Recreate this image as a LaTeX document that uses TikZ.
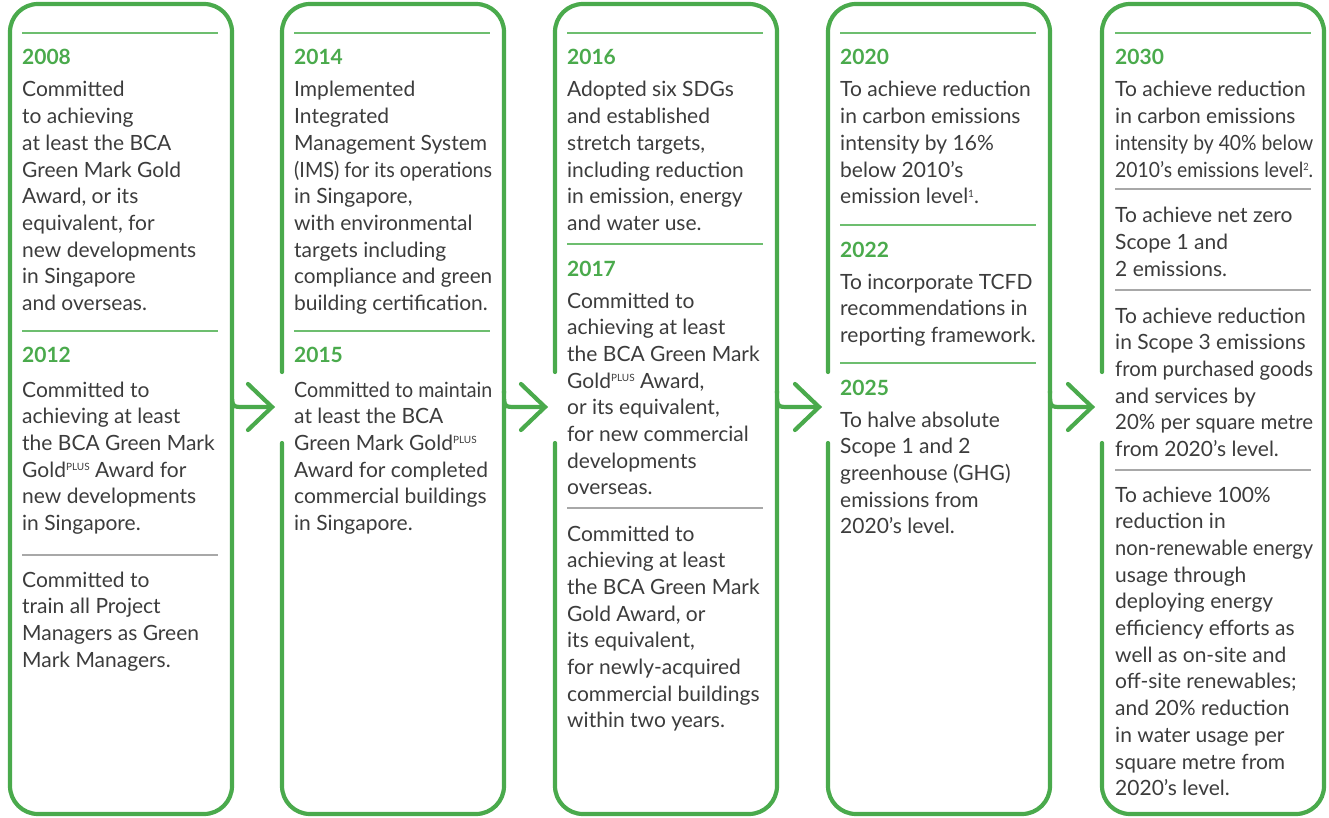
\documentclass[tikz,border=0pt]{standalone}
\usepackage{fontspec}
\setmainfont{Lato}
\usepackage{graphicx}
\definecolor{grn}{HTML}{4AAA4C}
\definecolor{lgrn}{HTML}{6DBE6F}
\definecolor{gry}{HTML}{A8A8A8}
\definecolor{txtc}{HTML}{3C3C3C}
\newlength\fitw
\newcommand\fl[1]{\settowidth\fitw{#1}\ifdim\fitw>198pt\resizebox{198pt}{\height}{#1}\else#1\fi}
\newcommand\myl[1]{\fl{#1}\\}
\newcommand\blk[1]{\parbox[t]{320pt}{\fontsize{21}{26.7}\selectfont#1}}
\newcommand\sups[1]{\raisebox{6.5pt}{\fontsize{10}{10}\selectfont #1}}
\tikzset{
  frame/.style={draw=grn, line width=4.2pt, line cap=round, rounded corners=28pt},
  chev/.style={draw=grn, line width=4.2pt, line cap=round, miter limit=10},
  gsep/.style={draw=lgrn, line width=1.6pt},
  ysep/.style={draw=gry, line width=1.4pt},
  yr/.style={inner sep=0pt, anchor=base west, text=grn, font=\fontsize{21}{21}\selectfont\bfseries},
  body/.style={inner sep=0pt, anchor=base west, text=txtc}
}
\begin{document}
\begin{tikzpicture}[x=1pt, y=-1pt]
\useasboundingbox (0,0) rectangle (1329,818);
% ---------- frames ----------
% column 1
\draw[frame] (232,393) -- (232,4) -- (10,4) -- (10,814) -- (232,814) -- (232,419) [sharp corners] .. controls (232,407) .. (244,407) -- (272,407);
\draw[chev] (248,384) -- (272,407) -- (248,430);
% column 2
\draw[frame] (504,393) -- (504,4) -- (282,4) -- (282,372);
\draw[frame] (282,443) -- (282,814) -- (504,814) -- (504,419) [sharp corners] .. controls (504,407) .. (516,407) -- (545,407);
\draw[chev] (521,384) -- (545,407) -- (521,430);
% column 3
\draw[frame] (777,393) -- (777,4) -- (555,4) -- (555,372);
\draw[frame] (555,443) -- (555,814) -- (777,814) -- (777,419) [sharp corners] .. controls (777,407) .. (789,407) -- (819,407);
\draw[chev] (795,384) -- (819,407) -- (795,430);
% column 4
\draw[frame] (1050,393) -- (1050,4) -- (828,4) -- (828,372);
\draw[frame] (828,443) -- (828,814) -- (1050,814) -- (1050,419) [sharp corners] .. controls (1050,407) .. (1062,407) -- (1092,407);
\draw[chev] (1068,384) -- (1092,407) -- (1068,430);
% column 5
\draw[frame] (1102,443) -- (1102,814) -- (1324,814) -- (1324,4) -- (1102,4) -- (1102,372);

% ---------- column 1 ----------
\coordinate (s1a) at (22,33); \coordinate (s1b) at (218,33);
\draw[gsep] (s1a) -- (s1b);
\node[yr] (y2008) at (22,65) {2008};
\node[body] (t2008) at (22,97) {\blk{\myl{Committed}\myl{to achieving}\myl{at least the BCA}\myl{Green Mark Gold}\myl{Award, or its}\myl{equivalent, for}\myl{new developments}\myl{in Singapore}\fl{and overseas.}}};
\coordinate (s1c) at (22,331); \coordinate (s1d) at (218,331);
\draw[gsep] (s1c) -- (s1d);
\node[yr] (y2012) at (22,362) {2012};
\node[body] (t2012) at (22,397) {\blk{\myl{Committed to}\myl{achieving at least}\myl{the BCA Green Mark}\myl{Gold\sups{PLUS} Award for}\myl{new developments}\fl{in Singapore.}}};
\coordinate (s1e) at (22,555); \coordinate (s1f) at (218,555);
\draw[ysep] (s1e) -- (s1f);
\node[body] (t2012b) at (22,587) {\blk{\myl{Committed to}\myl{train all Project}\myl{Managers as Green}\fl{Mark Managers.}}};

% ---------- column 2 ----------
\coordinate (s2a) at (294,33); \coordinate (s2b) at (490,33);
\draw[gsep] (s2a) -- (s2b);
\node[yr] (y2014) at (294,65) {2014};
\node[body] (t2014) at (294,97) {\blk{\myl{Implemented}\myl{Integrated}\myl{Management System}\myl{(IMS) for its operations}\myl{in Singapore,}\myl{with environmental}\myl{targets including}\myl{compliance and green}\fl{building certification.}}};
\coordinate (s2c) at (294,331); \coordinate (s2d) at (490,331);
\draw[gsep] (s2c) -- (s2d);
\node[yr] (y2015) at (294,362) {2015};
\node[body] (t2015) at (294,397) {\blk{\myl{Committed to maintain}\myl{at least the BCA}\myl{Green Mark Gold\sups{PLUS}}\myl{Award for completed}\myl{commercial buildings}\fl{in Singapore.}}};

% ---------- column 3 ----------
\coordinate (s3a) at (567,33); \coordinate (s3b) at (763,33);
\draw[gsep] (s3a) -- (s3b);
\node[yr] (y2016) at (567,65) {2016};
\node[body] (t2016) at (567,97) {\blk{\myl{Adopted six SDGs}\myl{and established}\myl{stretch targets,}\myl{including reduction}\myl{in emission, energy}\fl{and water use.}}};
\coordinate (s3c) at (567,244); \coordinate (s3d) at (763,244);
\draw[gsep] (s3c) -- (s3d);
\node[yr] (y2017) at (567,276) {2017};
\node[body] (t2017) at (567,308) {\blk{\myl{Committed to}\myl{achieving at least}\myl{the BCA Green Mark}\myl{Gold\sups{PLUS} Award,}\myl{or its equivalent,}\myl{for new commercial}\myl{developments}\fl{overseas.}}};
\coordinate (s3e) at (567,508); \coordinate (s3f) at (763,508);
\draw[ysep] (s3e) -- (s3f);
\node[body] (t2017b) at (567,541) {\blk{\myl{Committed to}\myl{achieving at least}\myl{the BCA Green Mark}\myl{Gold Award, or}\myl{its equivalent,}\myl{for newly-acquired}\myl{commercial buildings}\fl{within two years.}}};

% ---------- column 4 ----------
\coordinate (s4a) at (840,33); \coordinate (s4b) at (1036,33);
\draw[gsep] (s4a) -- (s4b);
\node[yr] (y2020) at (840,65) {2020};
\node[body] (t2020) at (840,97) {\blk{\myl{To achieve reduction}\myl{in carbon emissions}\myl{intensity by 16\%}\myl{below 2010’s}\fl{emission level\sups{1}.}}};
\coordinate (s4c) at (840,225); \coordinate (s4d) at (1036,225);
\draw[gsep] (s4c) -- (s4d);
\node[yr] (y2022) at (840,257) {2022};
\node[body] (t2022) at (840,289) {\blk{\myl{To incorporate TCFD}\myl{recommendations in}\fl{reporting framework.}}};
\coordinate (s4e) at (840,363); \coordinate (s4f) at (1036,363);
\draw[gsep] (s4e) -- (s4f);
\node[yr] (y2025) at (840,395) {2025};
\node[body] (t2025) at (840,427) {\blk{\myl{To halve absolute}\myl{Scope 1 and 2}\myl{greenhouse (GHG)}\myl{emissions from}\fl{2020's level.}}};

% ---------- column 5 ----------
\coordinate (s5a) at (1115,33); \coordinate (s5b) at (1311,33);
\draw[gsep] (s5a) -- (s5b);
\node[yr] (y2030) at (1115,65) {2030};
\node[body] (t2030) at (1115,97) {\blk{\myl{To achieve reduction}\myl{in carbon emissions}\myl{intensity by 40\% below}\fl{2010’s emissions level\sups{2}.}}};
\coordinate (s5c) at (1115,189); \coordinate (s5d) at (1311,189);
\draw[ysep] (s5c) -- (s5d);
\node[body] (t2030b) at (1115,223) {\blk{\myl{To achieve net zero}\myl{Scope 1 and}\fl{2 emissions.}}};
\coordinate (s5e) at (1115,290); \coordinate (s5f) at (1311,290);
\draw[ysep] (s5e) -- (s5f);
\node[body] (t2030c) at (1115,323) {\blk{\myl{To achieve reduction}\myl{in Scope 3 emissions}\myl{from purchased goods}\myl{and services by}\myl{20\% per square metre}\fl{from 2020’s level.}}};
\coordinate (s5g) at (1115,470); \coordinate (s5h) at (1311,470);
\draw[ysep] (s5g) -- (s5h);
\node[body] (t2030d) at (1115,502) {\blk{\myl{To achieve 100\%}\myl{reduction in}\myl{non-renewable energy}\myl{usage through}\myl{deploying energy}\myl{efficiency efforts as}\myl{well as on-site and}\myl{off-site renewables;}\myl{and 20\% reduction}\myl{in water usage per}\myl{square metre from}\fl{2020’s level.}}};
\end{tikzpicture}
\end{document}
